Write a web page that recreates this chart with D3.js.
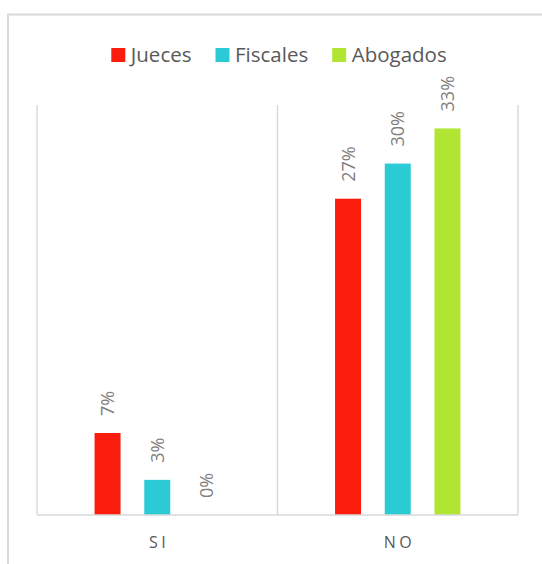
<!DOCTYPE html>
<html>
<head>
<meta charset="utf-8">
<script src="https://cdn.jsdelivr.net/npm/d3@7"></script>
<style>
  html, body { margin: 0; padding: 0; background: #fff; }
  svg { display: block; font-family: "Open Sans", sans-serif; }
</style>
</head>
<body>
<svg id="chart" width="542" height="564"></svg>
<script>
// Respuestas por grupo (porcentaje)
const categories = ["SI", "NO"];
const seriesNames = ["Jueces", "Fiscales", "Abogados"];
const jueces   = [7, 27];
const fiscales = [3, 30];
const abogados = [0, 33];
const seriesColors = ["#FA1C0C", "#2BCBD5", "#B1E533"];

const seriesValues = [jueces, fiscales, abogados];
const rows = categories.map((c, i) => ({
  category: c,
  values: seriesNames.map((s, j) => ({ series: s, value: seriesValues[j][i] }))
}));

const svg = d3.select("#chart");
const W = 542, H = 564;
const plot = { left: 37, right: 518, top: 105, bottom: 515 };

// outer frame (runs off the right and bottom edges)
svg.append("path")
  .attr("d", `M8,${H + 5}V14.5H${W + 5}`)
  .attr("fill", "none")
  .attr("stroke", "#d9d9d9")
  .attr("stroke-width", 2);

const x0 = d3.scaleBand()
  .domain(categories)
  .range([plot.left, plot.right])
  .paddingInner(0)
  .paddingOuter(0);

const x1 = d3.scaleBand()
  .domain(seriesNames)
  .range([0, x0.bandwidth()])
  .paddingInner(0.477)
  .paddingOuter(1.158);

const y = d3.scaleLinear()
  .domain([0, 35])
  .range([plot.bottom, plot.top]);

const color = d3.scaleOrdinal().domain(seriesNames).range(seriesColors);

// vertical category separators
const grid = svg.append("g")
  .attr("stroke", "#d9d9d9")
  .attr("stroke-width", 1.4);
const bounds = categories.map(c => x0(c)).concat([x0(categories[categories.length - 1]) + x0.bandwidth()]);
grid.selectAll("line.sep")
  .data(bounds)
  .join("line")
  .attr("class", "sep")
  .attr("x1", d => d).attr("x2", d => d)
  .attr("y1", plot.top).attr("y2", plot.bottom);

// bars
const groups = svg.append("g")
  .selectAll("g")
  .data(rows)
  .join("g")
  .attr("transform", d => `translate(${x0(d.category)},0)`);

groups.selectAll("rect")
  .data(d => d.values)
  .join("rect")
  .attr("x", d => x1(d.series))
  .attr("width", x1.bandwidth())
  .attr("y", d => y(d.value))
  .attr("height", d => y(0) - y(d.value))
  .attr("fill", d => color(d.series));

// value labels, rotated
const fmt = d => d3.format("d")(d) + "%";
groups.selectAll("text")
  .data(d => d.values)
  .join("text")
  .attr("transform", d => `translate(${x1(d.series) + x1.bandwidth() / 2},${y(d.value) - 17}) rotate(-90)`)
  .attr("dy", "0.36em")
  .attr("text-anchor", "start")
  .attr("fill", "#808080")
  .attr("font-size", 18)
  .text(d => fmt(d.value));

// baseline
svg.append("line")
  .attr("x1", plot.left).attr("x2", plot.right)
  .attr("y1", plot.bottom).attr("y2", plot.bottom)
  .attr("stroke", "#d9d9d9")
  .attr("stroke-width", 1.4);

// category axis
const xAxis = d3.axisBottom(x0).tickSize(0).tickPadding(0);
const axisG = svg.append("g")
  .attr("transform", `translate(0,${plot.bottom})`)
  .call(xAxis);
axisG.select(".domain").remove();
axisG.selectAll("text")
  .attr("y", 33)
  .attr("dy", 0)
  .attr("dx", "1.75")
  .attr("fill", "#595959")
  .attr("font-size", 16)
  .attr("font-family", "Open Sans, sans-serif")
  .style("letter-spacing", "3.5px");

// legend
const legend = svg.append("g").attr("font-size", 20.5).attr("fill", "#595959");
const items = legend.selectAll("g")
  .data(seriesNames)
  .join("g");
items.append("rect")
  .attr("width", 14).attr("height", 14)
  .attr("y", -14)
  .attr("fill", d => color(d));
items.append("text")
  .attr("x", 19.5)
  .attr("y", 0)
  .attr("dy", "0.02em")
  .text(d => d);

let cursor = 0;
const widths = [];
items.each(function () {
  const tw = d3.select(this).select("text").node().getComputedTextLength();
  widths.push(19.5 + tw);
});
const gap = 24;
const total = d3.sum(widths) + gap * (widths.length - 1);
let start = 279 - total / 2;
items.attr("transform", (d, i) => {
  const t = `translate(${start},62)`;
  start += widths[i] + gap;
  return t;
});
</script>
</body>
</html>
